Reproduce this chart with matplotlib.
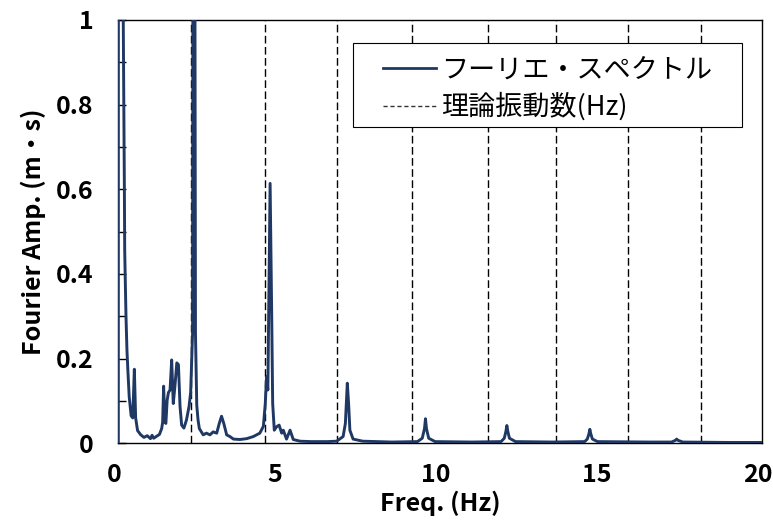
import matplotlib
matplotlib.use("Agg")
import matplotlib.pyplot as plt
import matplotlib.transforms as mtransforms
from matplotlib.patches import Rectangle
from matplotlib.lines import Line2D

plt.rcParams['font.family'] = ['Noto Sans CJK JP', 'DejaVu Sans']

# --- data ---
freq = [0.00, 0.005, 0.14, 0.155, 0.19, 0.20, 0.22, 0.24, 0.27, 0.30, 0.34, 0.40, 0.45, 0.50, 0.54,
        0.60, 0.70, 0.80, 0.90, 1.00, 1.05, 1.10, 1.20, 1.28, 1.35, 1.38, 1.41, 1.45, 1.48, 1.52,
        1.56, 1.61, 1.66, 1.71, 1.76, 1.82, 1.87, 1.92, 1.97, 2.04, 2.12, 2.20, 2.25, 2.31, 2.345,
        2.40, 2.44, 2.48, 2.52, 2.64, 2.74, 2.85, 2.95, 3.06, 3.14, 3.21, 3.28, 3.37, 3.47, 3.58,
        3.78, 3.99, 4.20, 4.40, 4.51, 4.57, 4.61, 4.65, 4.72, 4.77, 4.80, 4.85, 4.92, 5.00, 5.08,
        5.13, 5.23, 5.34, 5.44, 5.65, 6.00, 6.50, 6.79, 6.99, 7.06, 7.12, 7.16, 7.20, 7.30, 7.60,
        8.50, 9.30, 9.45, 9.52, 9.55, 9.58, 9.65, 9.85, 11.00, 11.90, 12.00, 12.05, 12.08, 12.11, 12.16,
        12.35, 13.50, 14.50, 14.58, 14.63, 14.66, 14.69, 14.74, 14.90, 16.50, 17.20, 17.32, 17.36, 17.40, 17.55,
        19.00, 20.00]
amp = [0.000, 3.0, 3.0, 1.00, 0.60, 0.456, 0.377, 0.300, 0.220, 0.170, 0.110, 0.065, 0.060, 0.175, 0.060,
       0.030, 0.020, 0.014, 0.018, 0.011, 0.019, 0.012, 0.017, 0.021, 0.035, 0.050, 0.135, 0.050, 0.047, 0.102,
       0.120, 0.126, 0.197, 0.094, 0.134, 0.190, 0.186, 0.087, 0.043, 0.036, 0.055, 0.087, 0.120, 0.260, 3.0,
       0.260, 0.090, 0.055, 0.035, 0.020, 0.024, 0.020, 0.027, 0.024, 0.047, 0.064, 0.047, 0.020, 0.016, 0.010,
       0.009, 0.011, 0.016, 0.024, 0.040, 0.094, 0.157, 0.126, 0.614, 0.300, 0.094, 0.031, 0.039, 0.043, 0.024,
       0.031, 0.010, 0.031, 0.009, 0.005, 0.004, 0.004, 0.005, 0.016, 0.047, 0.142, 0.094, 0.031, 0.010, 0.005,
       0.003, 0.004, 0.012, 0.035, 0.058, 0.035, 0.012, 0.004, 0.003, 0.004, 0.012, 0.028, 0.042, 0.028, 0.012,
       0.004, 0.003, 0.004, 0.010, 0.022, 0.033, 0.022, 0.010, 0.004, 0.003, 0.003, 0.007, 0.010, 0.007, 0.003,
       0.002, 0.002]
theory_freq = [2.25, 4.55, 6.80, 9.13, 11.48, 13.61, 15.85, 18.13]

x_ticks = [0, 5, 10, 15, 20]
y_ticks = [0, 0.2, 0.4, 0.6, 0.8, 1.0]
y_ticklabels = ['0', '0.2', '0.4', '0.6', '0.8', '1']
label_spectrum = 'フーリエ・スペクトル'
label_theory = '理論振動数(Hz)'
xlabel = 'Freq. (Hz)'
ylabel = 'Fourier Amp. (m・s)'

navy = '#1F3864'

fig = plt.figure(figsize=(7.73, 5.26), dpi=100)
ax = fig.add_axes([0.1530, 0.1572, 0.8323, 0.8048])

for f in theory_freq:
    ax.axvline(f, color='black', lw=1.0, dashes=(5.5, 2.5), zorder=2)

ax.plot(freq, amp, color=navy, lw=2.1, zorder=3, solid_joinstyle='round')

ax.set_xlim(0, 20)
ax.set_ylim(0, 1)
ax.set_xticks(x_ticks)
ax.set_xticklabels([str(t) for t in x_ticks])
ax.set_yticks(y_ticks)
ax.set_yticklabels(y_ticklabels)
ax.set_yticks([0.1, 0.3, 0.5, 0.7, 0.9], minor=True)

ax.tick_params(axis='x', length=0, pad=14, labelsize=18)
ax.tick_params(axis='y', which='both', direction='in', length=5.5, width=1.0, pad=18, labelsize=18)
shift = mtransforms.ScaledTranslation(-4 / 100, 0, fig.dpi_scale_trans)
for lab in ax.get_xticklabels():
    lab.set_fontweight('bold')
    lab.set_transform(lab.get_transform() + shift)
for lab in ax.get_yticklabels():
    lab.set_fontweight('bold')

for s in ax.spines.values():
    s.set_linewidth(1.0)
    s.set_color('black')

ax.set_xlabel(xlabel, fontsize=18, fontweight='bold', labelpad=3)
ax.set_ylabel(ylabel, fontsize=18, fontweight='bold', labelpad=7)

# legend frame and entries
ax.add_patch(Rectangle((0.365, 0.748), 0.604, 0.197, transform=ax.transAxes,
                       facecolor='white', edgecolor='black', lw=0.8, zorder=4))
handles = [Line2D([], [], color=navy, lw=2.0),
           Line2D([], [], color='#333333', lw=1.0, dashes=(3, 2))]
leg = ax.legend(handles, [label_spectrum, label_theory], loc='center left',
                bbox_to_anchor=(0.411, 0.837), frameon=False, fontsize=19.5,
                handlelength=1.95, handletextpad=0.22, labelspacing=0.32, borderpad=0,
                borderaxespad=0)
leg.set_zorder(5)

fig.savefig('out.png', dpi=100)
